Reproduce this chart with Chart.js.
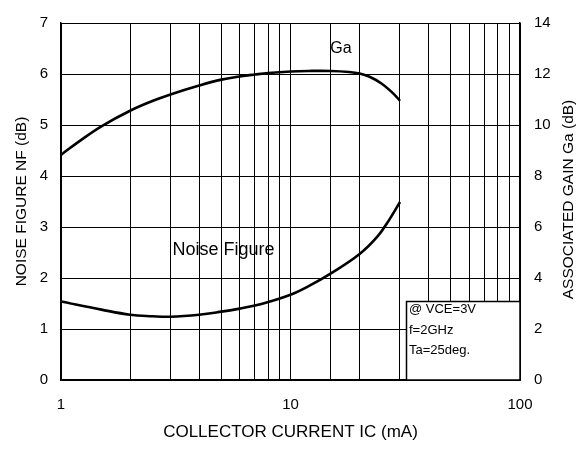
<!DOCTYPE html>
<html>
<head>
<meta charset="utf-8">
<script src="https://cdn.jsdelivr.net/npm/chart.js@4/dist/chart.umd.min.js"></script>
<style>
  html, body { margin: 0; padding: 0; background: #fff; }
  #wrap { width: 582px; height: 450px; position: relative; }
</style>
</head>
<body>
<div id="wrap"><canvas id="c" width="582" height="450"></canvas></div>
<script>
// ---- data ----
const gaCurrent = [1, 1.2, 1.5, 2, 2.5, 3, 4, 5, 6, 7, 8, 10, 12, 15, 18, 20, 22, 25, 28, 30];
const gaValues  = [8.83, 9.36, 9.95, 10.56, 10.94, 11.2, 11.55, 11.78, 11.9, 11.98, 12.04, 12.1, 12.12, 12.12, 12.08, 12.02, 11.9, 11.62, 11.24, 10.95];
const nfCurrent = [1, 1.5, 2, 2.5, 3, 4, 5, 6, 7, 8, 10, 12, 15, 20, 24, 27, 30];
const nfValues  = [1.54, 1.38, 1.28, 1.25, 1.24, 1.28, 1.34, 1.40, 1.46, 1.53, 1.67, 1.84, 2.09, 2.47, 2.82, 3.15, 3.49];
const xTickLabels = [1, 10, 100];
const conditionLines = ['@ VCE=3V', 'f=2GHz', 'Ta=25deg.'];

const FONT = "'Liberation Sans', Arial, Helvetica, sans-serif";

const toPoints = (xs, ys) => xs.map((x, i) => ({ x: x, y: ys[i] }));

const annotations = {
  id: 'annotations',
  afterDraw(chart) {
    const ctx = chart.ctx;
    const x = chart.scales.x, y = chart.scales.y, y2 = chart.scales.y2;
    const area = chart.chartArea;
    ctx.save();
    ctx.fillStyle = '#000';
    ctx.textBaseline = 'middle';
    ctx.textAlign = 'left';
    // curve labels
    ctx.font = '16px ' + FONT;
    ctx.fillText('Ga', x.getPixelForValue(14.9), y2.getPixelForValue(13.0));
    ctx.font = '18px ' + FONT;
    ctx.fillText('Noise Figure', x.getPixelForValue(3.06), y.getPixelForValue(2.55));
    // condition box
    const bl = Math.round(x.getPixelForValue(31.9)) + 0.5;
    const bt = Math.round(y.getPixelForValue(1.55)) + 0.5;
    const br = area.right;
    const bb = area.bottom;
    ctx.fillStyle = '#fff';
    ctx.fillRect(bl, bt, br - bl, bb - bt);
    ctx.strokeStyle = '#000';
    ctx.lineWidth = 1.5;
    ctx.strokeRect(bl, bt, br - bl, bb - bt);
    ctx.fillStyle = '#000';
    ctx.font = '13px ' + FONT;
    const rows = [1.377, 0.974, 0.576];
    conditionLines.forEach((t, i) => {
      ctx.fillText(t, bl + 2.5, y.getPixelForValue(rows[i]));
    });
    // right axis title (reads bottom to top)
    ctx.font = '15.5px ' + FONT;
    ctx.textAlign = 'center';
    ctx.translate(569, (area.top + area.bottom) / 2 - 2);
    ctx.rotate(-Math.PI / 2);
    ctx.fillText('ASSOCIATED GAIN Ga (dB)', 0, 0);
    ctx.restore();
  }
};

new Chart(document.getElementById('c'), {
  type: 'line',
  data: {
    datasets: [
      {
        label: 'Ga',
        data: toPoints(gaCurrent, gaValues),
        yAxisID: 'y2',
        borderColor: '#000',
        borderWidth: 2.6,
        pointRadius: 0,
        tension: 0.4,
        fill: false
      },
      {
        label: 'Noise Figure',
        data: toPoints(nfCurrent, nfValues),
        yAxisID: 'y',
        borderColor: '#000',
        borderWidth: 2.6,
        pointRadius: 0,
        tension: 0.4,
        fill: false
      }
    ]
  },
  options: {
    responsive: false,
    animation: false,
    devicePixelRatio: 1,
    layout: { padding: { top: 15, left: 0, right: 0, bottom: 0 } },
    plugins: { legend: { display: false }, tooltip: { enabled: false } },
    scales: {
      x: {
        type: 'logarithmic',
        min: 1,
        max: 100,
        afterFit(s) { s.height = 70; },
        grid: { color: '#000', lineWidth: 1, drawTicks: false },
        border: { color: '#000', width: 1.5 },
        ticks: {
          autoSkip: false,
          maxRotation: 0,
          padding: 16,
          color: '#000',
          font: { family: FONT, size: 15 },
          callback: (v) => xTickLabels.includes(v) ? String(v) : ''
        },
        title: {
          display: true,
          text: 'COLLECTOR CURRENT IC (mA)',
          color: '#000',
          font: { family: FONT, size: 17 },
          padding: { top: 0, bottom: 7 }
        }
      },
      y: {
        type: 'linear',
        position: 'left',
        min: 0,
        max: 7,
        afterFit(s) { s.width = 61; },
        grid: { color: '#000', lineWidth: 1, drawTicks: false },
        border: { color: '#000', width: 1.5 },
        ticks: {
          stepSize: 1,
          padding: 13,
          color: '#000',
          font: { family: FONT, size: 15 }
        },
        title: {
          display: true,
          text: 'NOISE FIGURE NF (dB)',
          color: '#000',
          font: { family: FONT, size: 15.5 },
          padding: { top: 12, bottom: 0 }
        }
      },
      y2: {
        type: 'linear',
        position: 'right',
        min: 0,
        max: 14,
        afterFit(s) { s.width = 62; },
        grid: { display: false, drawTicks: false },
        border: { color: '#000', width: 1.5 },
        ticks: {
          stepSize: 2,
          padding: 14,
          color: '#000',
          font: { family: FONT, size: 15 }
        }
      }
    }
  },
  plugins: [annotations]
});
</script>
</body>
</html>
